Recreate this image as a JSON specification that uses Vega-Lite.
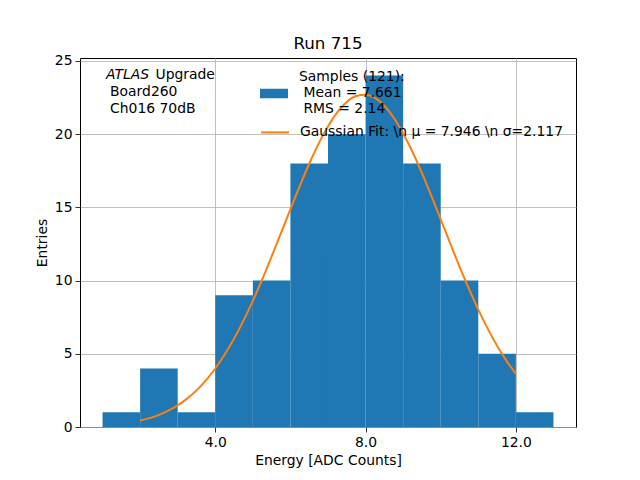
{
  "$schema": "https://vega.github.io/schema/vega-lite/v6.json",
  "width": 496,
  "height": 369,
  "autosize": "none",
  "padding": {"left": 80, "top": 58, "right": 64, "bottom": 53},
  "background": "white",
  "title": {
    "text": "Run 715",
    "fontSize": 16.7,
    "font": "DejaVu Sans",
    "fontWeight": "normal",
    "color": "black",
    "offset": 1
  },
  "layer": [
    {
      "data": {
        "values": [
          {"lo": 1, "hi": 2, "count": 1, "series": "Samples"},
          {"lo": 2, "hi": 3, "count": 4, "series": "Samples"},
          {"lo": 3, "hi": 4, "count": 1, "series": "Samples"},
          {"lo": 4, "hi": 5, "count": 9, "series": "Samples"},
          {"lo": 5, "hi": 6, "count": 10, "series": "Samples"},
          {"lo": 6, "hi": 7, "count": 18, "series": "Samples"},
          {"lo": 7, "hi": 8, "count": 20, "series": "Samples"},
          {"lo": 8, "hi": 9, "count": 24, "series": "Samples"},
          {"lo": 9, "hi": 10, "count": 18, "series": "Samples"},
          {"lo": 10, "hi": 11, "count": 10, "series": "Samples"},
          {"lo": 11, "hi": 12, "count": 5, "series": "Samples"},
          {"lo": 12, "hi": 13, "count": 1, "series": "Samples"}
        ]
      },
      "mark": {"type": "bar", "opacity": 1, "orient": "vertical"},
      "encoding": {
        "x": {
          "field": "lo",
          "type": "quantitative",
          "scale": {"domain": [0.4, 13.6], "nice": false, "zero": false, "padding": 0},
          "axis": {"values": [4, 8, 12], "format": ".1f", "title": "Energy [ADC Counts]"}
        },
        "x2": {"field": "hi"},
        "y": {
          "field": "count",
          "type": "quantitative",
          "scale": {"domain": [0, 25.2], "nice": false, "padding": 0},
          "axis": {"values": [0, 5, 10, 15, 20, 25], "title": "Entries"}
        },
        "y2": {"datum": 0},
        "color": {
          "field": "series",
          "type": "nominal",
          "scale": {"domain": ["Samples"], "range": ["#1f77b4"]},
          "legend": {
            "orient": "none",
            "legendX": 180,
            "legendY": 5,
            "title": null,
            "padding": 0,
            "symbolSize": 784,
            "symbolType": "M-1,0.84H1V1.52H-1Z",
            "symbolStrokeWidth": 0,
            "labelOffset": 11,
            "labelLimit": 500,
            "labelFont": "DejaVu Sans",
            "labelFontSize": 13.9,
            "labelColor": "black",
            "labelExpr": "['Samples (121):', '\u200b Mean = 7.661', '\u200b RMS = 2.14']"
          }
        }
      }
    },
    {
      "data": {
        "values": [
          {"x": 2.0, "y": 0.439, "series": "Gaussian"},
          {"x": 2.25, "y": 0.608, "series": "Gaussian"},
          {"x": 2.5, "y": 0.83, "series": "Gaussian"},
          {"x": 2.75, "y": 1.117, "series": "Gaussian"},
          {"x": 3.0, "y": 1.482, "series": "Gaussian"},
          {"x": 3.25, "y": 1.939, "series": "Gaussian"},
          {"x": 3.5, "y": 2.501, "series": "Gaussian"},
          {"x": 3.75, "y": 3.183, "series": "Gaussian"},
          {"x": 4.0, "y": 3.995, "series": "Gaussian"},
          {"x": 4.25, "y": 4.947, "series": "Gaussian"},
          {"x": 4.5, "y": 6.036, "series": "Gaussian"},
          {"x": 4.75, "y": 7.264, "series": "Gaussian"},
          {"x": 5.0, "y": 8.619, "series": "Gaussian"},
          {"x": 5.25, "y": 10.09, "series": "Gaussian"},
          {"x": 5.5, "y": 11.65, "series": "Gaussian"},
          {"x": 5.75, "y": 13.25, "series": "Gaussian"},
          {"x": 6.0, "y": 14.88, "series": "Gaussian"},
          {"x": 6.25, "y": 16.47, "series": "Gaussian"},
          {"x": 6.5, "y": 17.98, "series": "Gaussian"},
          {"x": 6.75, "y": 19.35, "series": "Gaussian"},
          {"x": 7.0, "y": 20.54, "series": "Gaussian"},
          {"x": 7.25, "y": 21.51, "series": "Gaussian"},
          {"x": 7.5, "y": 22.2, "series": "Gaussian"},
          {"x": 7.75, "y": 22.6, "series": "Gaussian"},
          {"x": 8.0, "y": 22.69, "series": "Gaussian"},
          {"x": 8.25, "y": 22.47, "series": "Gaussian"},
          {"x": 8.5, "y": 21.94, "series": "Gaussian"},
          {"x": 8.75, "y": 21.12, "series": "Gaussian"},
          {"x": 9.0, "y": 20.05, "series": "Gaussian"},
          {"x": 9.25, "y": 18.78, "series": "Gaussian"},
          {"x": 9.5, "y": 17.34, "series": "Gaussian"},
          {"x": 9.75, "y": 15.79, "series": "Gaussian"},
          {"x": 10.0, "y": 14.18, "series": "Gaussian"},
          {"x": 10.25, "y": 12.56, "series": "Gaussian"},
          {"x": 10.5, "y": 10.96, "series": "Gaussian"},
          {"x": 10.75, "y": 9.443, "series": "Gaussian"},
          {"x": 11.0, "y": 8.018, "series": "Gaussian"},
          {"x": 11.25, "y": 6.717, "series": "Gaussian"},
          {"x": 11.5, "y": 5.546, "series": "Gaussian"},
          {"x": 11.75, "y": 4.517, "series": "Gaussian"},
          {"x": 12.0, "y": 3.63, "series": "Gaussian"}
        ]
      },
      "mark": {"type": "line", "strokeWidth": 2, "interpolate": "monotone"},
      "encoding": {
        "x": {"field": "x", "type": "quantitative"},
        "y": {"field": "y", "type": "quantitative"},
        "stroke": {
          "field": "series",
          "type": "nominal",
          "scale": {"domain": ["Gaussian"], "range": ["#ff7f0e"]},
          "legend": {
            "orient": "none",
            "legendX": 180,
            "legendY": 59.4,
            "title": null,
            "padding": 0,
            "symbolSize": 784,
            "symbolType": "stroke",
            "symbolStrokeWidth": 2,
            "labelOffset": 10,
            "labelLimit": 500,
            "labelFont": "DejaVu Sans",
            "labelFontSize": 13.9,
            "labelColor": "black",
            "labelExpr": "'Gaussian Fit: \\\\n μ = 7.946 \\\\n σ=2.117'"
          }
        }
      }
    },
    {
      "data": {"values": [{"x": 1.09, "y": 24.06, "t": "ATLAS"}]},
      "mark": {"type": "text", "align": "left", "baseline": "middle", "fontStyle": "italic", "fontSize": 13.9, "font": "DejaVu Sans", "color": "black"},
      "encoding": {
        "x": {"field": "x", "type": "quantitative"},
        "y": {"field": "y", "type": "quantitative"},
        "text": {"field": "t"}
      }
    },
    {
      "data": {
        "values": [
          {"x": 2.41, "y": 24.06, "t": "Upgrade"},
          {"x": 1.2, "y": 22.85, "t": "Board260"},
          {"x": 1.2, "y": 21.73, "t": "Ch016 70dB"}
        ]
      },
      "mark": {"type": "text", "align": "left", "baseline": "middle", "fontSize": 13.9, "font": "DejaVu Sans", "color": "black"},
      "encoding": {
        "x": {"field": "x", "type": "quantitative"},
        "y": {"field": "y", "type": "quantitative"},
        "text": {"field": "t"}
      }
    }
  ],
  "resolve": {"scale": {"color": "independent", "stroke": "independent"}},
  "config": {
    "view": {"stroke": "black", "strokeWidth": 1},
    "font": "DejaVu Sans",
    "text": {"lineHeight": 16.5},
    "axis": {
      "zindex": 1,
      "domain": false,
      "grid": true,
      "gridColor": "#b0b0b0",
      "gridWidth": 0.8,
      "tickColor": "black",
      "tickSize": 5,
      "tickWidth": 0.8,
      "labelFont": "DejaVu Sans",
      "labelFontSize": 13.9,
      "labelColor": "black",
      "labelPadding": 3,
      "titleFont": "DejaVu Sans",
      "titleFontSize": 13.9,
      "titleFontWeight": "normal",
      "titleColor": "black",
      "titlePadding": 5
    }
  }
}
